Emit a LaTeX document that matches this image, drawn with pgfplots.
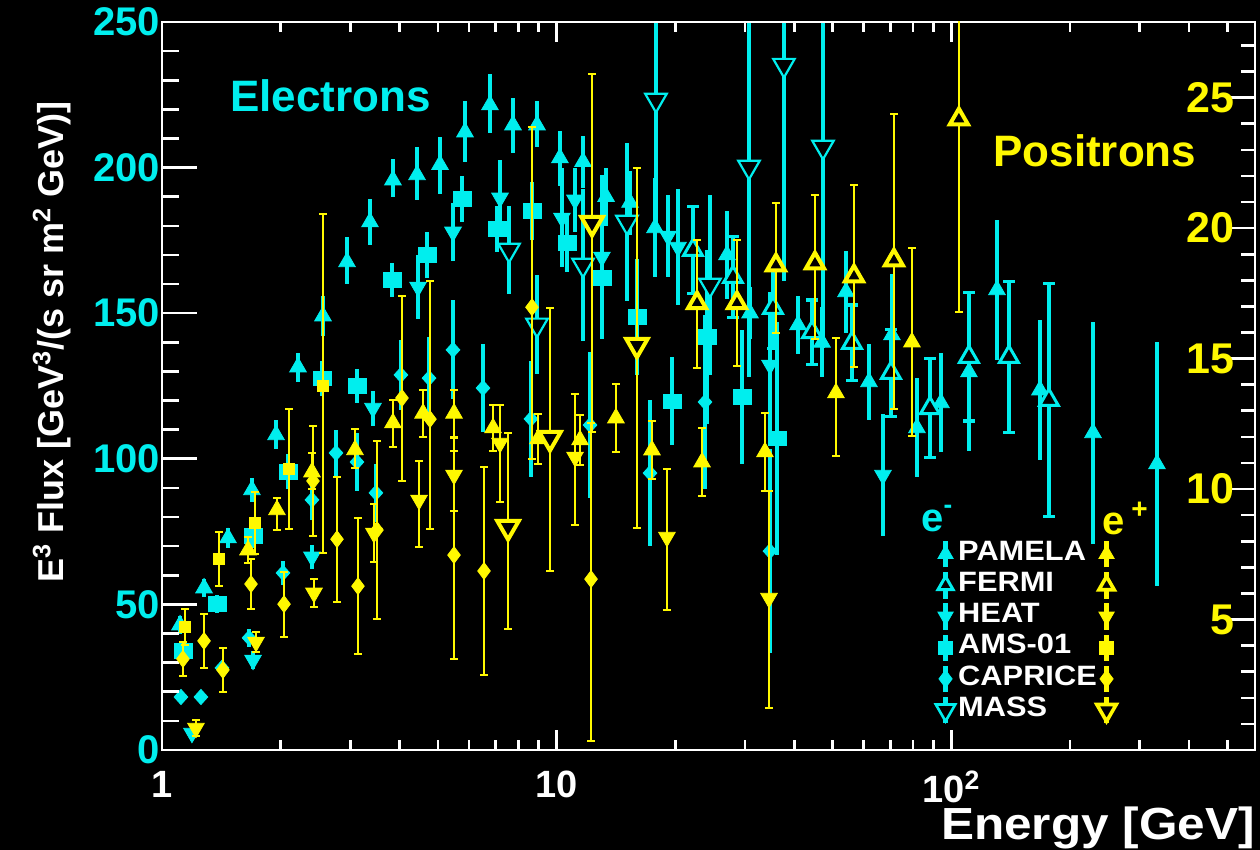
\documentclass[border=0pt]{standalone}
\usepackage{fontspec}
\setmainfont{Liberation Sans}
\newfontfamily\widefont[FakeStretch=1.1]{Liberation Sans}
\usepackage{pgfplots}
\pgfplotsset{compat=1.18}
\definecolor{ecyan}{RGB}{0,238,238}
\definecolor{pyel}{RGB}{255,248,0}
\pgfplotsset{
  every axis/.append style={at={(81pt,50pt)}, anchor=south west, scale only axis,
    width=546.5pt, height=364pt, xmin=1, xmax=588,
    axis line style={white, line width=1.1pt},
    tick style={white, line width=1.3pt}, tick align=inside},
  eplot/.style={only marks, ecyan, mark size=4.8pt,
    error bars/y dir=both, error bars/y explicit,
    error bars/error bar style={line width=2.2pt, ecyan},
    error bars/error mark=none},
  fplot/.style={only marks, ecyan, mark size=5.4pt,
    error bars/y dir=both, error bars/y explicit,
    error bars/error bar style={line width=2.2pt, ecyan},
    error bars/error mark options={rotate=90, mark size=2.8pt, line width=1.6pt, ecyan}},
  pplot/.style={only marks, pyel, mark size=4.8pt, forget plot,
    error bars/y dir=both, error bars/y explicit,
    error bars/error bar style={line width=1pt, pyel},
    error bars/error mark options={rotate=90, mark size=1.9pt, line width=1pt, pyel}},
}
\begin{document}
\begin{tikzpicture}
\path[fill=black, use as bounding box] (0,0) rectangle (630pt,425pt);
% ---------------- axis 1: x ticks + electrons
\begin{semilogxaxis}[name=ax1, ymin=0, ymax=250, ytick=\empty, yminorticks=false,
  xtick={1,10,100}, xticklabels={1,10,10\textsuperscript{2}},
  minor xtick={2,3,4,5,6,7,8,9,20,30,40,50,60,70,80,90,200,300,400,500},
  xticklabel pos=left,
  major tick length=10pt, minor tick length=5pt,
  xticklabel style={white, font=\bfseries\fontsize{19}{19}\selectfont, yshift=-7pt}]
% PAMELA e-
\addplot[eplot, mark=triangle*] table[x=x,y=y,y error plus=ep,y error minus=em] {
x y ep em
1.111 42.9 3 3
1.278 55.6 3 3
1.470 72.8 3.6 3.6
1.690 89.3 4 4
1.945 108.2 5 5
2.211 131.5 5 5
2.558 149.0 7 7
2.943 167.6 8.4 7.6
3.365 181.3 8 8
3.848 195.7 7.3 5.7
4.428 197.5 9.5 8.5
5.063 201.0 9.5 10
5.858 212.2 10.8 10.2
6.776 221.5 10.5 9.5
7.751 214.6 9.4 9.6
8.916 214.6 8.4 7.6
10.19 203.3 9.2 9.6
11.66 202.0 9 9
13.34 190.0 10 10
15.34 188.0 11 11
17.75 179.3 17 17
27.01 170.0 15 15
30.89 150.0 9 9
40.88 146.0 10 10
47.01 140.0 12 12
54.07 157.3 14 14
61.84 126.4 13 13
70.71 142.5 21 21
81.81 110.6 17 17
94.12 119.2 17 17
110.8 129.8 27 27
130.5 158.0 24 24
167.7 123.6 24 24
228.5 108.9 38 38
331.9 98.2 42 42
};
% HEAT e-
\addplot[eplot, mark=triangle*, mark options={rotate=180}] table[x=x,y=y,y error plus=ep,y error minus=em] {
x y ep em
1.191 5.8 2 2
1.701 30.9 3 3
2.399 66.3 4 4
3.424 117.4 6 6
4.454 159.0 11 11
5.462 177.9 10 10
7.186 189.6 13 13
10.31 182.7 17 17
11.13 188.9 11 11
13.02 169.3 28 28
19.14 176.5 14 14
20.29 172.7 20 20
34.71 132.2 25 25
67.10 94.4 21 21
};
% AMS-01 e-
\addplot[eplot, mark=square*, mark size=3.6pt, mark options={xscale=1.25}] table[x=x,y=y,y error plus=ep,y error minus=em] {
x y ep em
1.130 34.0 3 3
1.378 50.1 3 3
1.701 73.5 4 4
2.086 95.5 6 6
2.543 127.7 6 6
3.119 125.0 6 6
3.825 161.4 6 6
4.694 170.0 8 8
5.756 189.2 8 8
7.061 178.9 8 8
8.658 185.1 10 10
10.62 174.1 10 10
13.02 162.1 18 18
15.97 148.7 20 20
19.59 119.8 15 15
24.03 141.8 30 30
29.48 121.2 23 23
36.15 107.1 40 40
};
% CAPRICE e-
\addplot[eplot, mark=diamond*, mark size=3.8pt, mark options={xscale=1.2}] table[x=x,y=y,y error plus=ep,y error minus=em] {
x y ep em
1.117 18.2 2 2
1.255 18.2 2 2
1.419 28.2 2 2
1.662 38.5 3 3
2.026 60.8 4 4
2.399 85.9 7 7
2.760 102.0 8 8
3.119 98.9 10 10
3.484 88.3 10 10
4.031 128.8 12 12
4.749 127.7 14 14
5.462 137.4 17 17
6.507 124.3 15 15
8.608 113.7 20 20
12.15 111.6 25 25
17.24 95.1 25 25
23.76 119.5 30 30
34.71 68.3 35 35
};
% FERMI e-
\addplot[fplot, mark=triangle*, mark options={fill=black, draw=ecyan, line width=1.5pt}] table[x=x,y=y,y error plus=ep,y error minus=em] {
x y ep em
22.15 171.7 15 15
27.97 162.4 14 14
35.32 151.8 14 14
44.36 143.5 11 11
56.00 139.8 13 13
70.31 129.5 15 15
88.27 117.4 17 17
110.8 135.0 22 22
139.9 135.0 26 26
176.7 120.2 40 40
};
% MASS e-
\addplot[eplot, mark=triangle*, mark size=6.2pt, mark options={rotate=180, fill=black, draw=ecyan, line width=1.1pt}] table[x=x,y=y,y error plus=ep,y error minus=em] {
x y ep em
7.573 171.7 15 15
8.916 146.0 17 17
11.66 166.6 26 26
15.07 181.3 27 27
17.85 223.2 45 45
24.45 159.7 31 31
30.71 200.2 72 72
37.66 235.2 74 74
47.29 207.1 69 69
};
\end{semilogxaxis}
% ---------------- axis 2: left y ticks
\begin{semilogxaxis}[name=ax2, ymin=0, ymax=250, xtick=\empty, xminorticks=false,
  ytick={0,50,100,150,200,250}, yticklabels={0,50,100,150,200,250},
  minor ytick={10,20,30,40,60,70,80,90,110,120,130,140,160,170,180,190,210,220,230,240},
  ytick pos=left, major tick length=17.5pt, minor tick length=8.5pt,
  yticklabel style={ecyan, font=\bfseries\fontsize{20}{20}\selectfont, xshift=2.5pt}]
\end{semilogxaxis}
% ---------------- axis 3: right y ticks + positrons
\begin{semilogxaxis}[name=ax3, ymin=0, ymax=27.9, xtick=\empty, xminorticks=false,
  ytick={5,10,15,20,25}, yticklabels={5,10,15,20,25},
  minor ytick={1,2,3,4,6,7,8,9,11,12,13,14,16,17,18,19,21,22,23,24,26,27},
  ytick pos=right, yticklabel pos=right, major tick length=13pt, minor tick length=7pt,
  yticklabel style={pyel, font=\bfseries\fontsize{21.5}{21.5}\selectfont, anchor=east, xshift=-6.8pt},
  legend columns=2,
  legend style={draw=none, fill=none, text=white, inner sep=0pt, outer sep=0pt,
    font=\widefont\bfseries\fontsize{14}{14}\selectfont,
    at={(0.708,0.2905)}, anchor=north west, row sep=0pt,
    nodes={inner sep=0pt, text height=10.8pt, text depth=4.7pt},
    /tikz/every odd column/.append style={column sep=1.5pt},
    /tikz/every even column/.append style={column sep=0pt}},
  legend cell align=left,
  legend image code/.code={
    \draw[#1, line width=2.4pt] (0pt,-6.6pt) -- (0pt,6.6pt);
    \path[#1, only marks] plot coordinates {(0pt,0pt)};}]
% PAMELA e+
\addplot[pplot, mark=triangle*] table[x=x,y=y,y error plus=ep,y error minus=em] {
x y ep em
1.652 7.66 0.5 0.5
1.956 9.2 0.46 0.77
2.399 10.65 0.75 0.65
3.083 11.5 0.8 0.7
3.848 12.53 0.9 0.9
4.586 12.9 0.9 0.9
5.494 12.9 0.9 0.9
6.898 12.34 0.9 0.9
8.967 11.92 0.95 0.95
11.46 11.88 0.95 0.95
14.13 12.72 1.3 1.3
17.44 11.49 1.1 1.1
23.35 11.03 1.3 1.3
33.71 11.42 1.5 1.5
51.00 13.68 2.1 2.4
79.47 15.63 3.6 3.6
};
% HEAT e+
\addplot[pplot, mark=triangle*, mark options={rotate=180}] table[x=x,y=y,y error plus=ep,y error minus=em] {
x y ep em
1.219 0.84 0.3 0.3
1.731 4.14 0.4 0.4
2.427 6.02 0.55 0.55
3.444 8.31 1.1 1.1
4.480 9.58 1.5 1.8
5.494 10.54 1.4 1.4
7.186 11.76 1.45 2.25
11.13 11.23 2.4 2.6
19.03 8.16 2.6 2.8
34.51 5.82 4.1 4.2
};
% AMS-01 e+
\addplot[pplot, mark=square*, mark size=2.8pt] table[x=x,y=y,y error plus=ep,y error minus=em] {
x y ep em
1.144 4.71 0.7 0.7
1.394 7.32 1.05 1.05
1.721 8.70 1.2 1.2
2.098 10.77 2.3 2.3
2.558 13.95 6.6 6.4
};
% CAPRICE e+
\addplot[pplot, mark=diamond*, mark size=4.2pt] table[x=x,y=y,y error plus=ep,y error minus=em] {
x y ep em
1.130 3.49 0.65 0.65
1.278 4.18 1.05 1.05
1.427 3.07 0.85 0.85
1.681 6.36 0.95 0.95
2.038 5.59 1.25 1.25
2.413 10.31 2.1 2.1
2.776 8.08 2.4 2.4
3.137 6.28 2.6 2.6
3.505 8.43 3.4 3.4
4.055 13.49 3.9 3.2
4.775 12.68 5.3 4.2
5.494 7.47 4 4
6.545 6.86 4 4
8.658 16.97 6.9 5.8
12.22 6.55 6 6.2
};
% FERMI e+
\addplot[pplot, mark=triangle*, mark size=5.2pt, mark options={fill=black, draw=pyel, line width=2pt}] table[x=x,y=y,y error plus=ep,y error minus=em] {
x y ep em
22.68 17.13 2.4 2.5
28.63 17.13 2.4 2.4
35.94 18.58 2.4 2.6
45.13 18.66 2.6 2.9
56.66 18.16 3.5 3.5
71.54 18.77 5.6 5.7
104.5 24.18 6.5 7.4
};
% MASS e+
\addplot[pplot, mark=triangle*, mark size=6.2pt, mark options={rotate=180, fill=black, draw=pyel, line width=2pt}] table[x=x,y=y,y error plus=ep,y error minus=em] {
x y ep em
7.530 8.54 3.6 3.9
9.616 11.95 5.0 5.1
12.29 20.19 5.7 8
15.97 15.52 6.8 7.0
};
% legend
\addlegendimage{ecyan, mark=triangle*, mark size=4.4pt}
\addlegendentry{PAMELA}
\addlegendimage{pyel, mark=triangle*, mark size=4.4pt}
\addlegendentry{}
\addlegendimage{ecyan, mark=triangle*, mark size=4.4pt, mark options={fill=black, draw=ecyan, line width=1.5pt}}
\addlegendentry{FERMI}
\addlegendimage{pyel, mark=triangle*, mark size=4.4pt, mark options={fill=black, draw=pyel, line width=1.8pt}}
\addlegendentry{}
\addlegendimage{ecyan, mark=triangle*, mark size=4.4pt, mark options={rotate=180}}
\addlegendentry{HEAT}
\addlegendimage{pyel, mark=triangle*, mark size=4.4pt, mark options={rotate=180}}
\addlegendentry{}
\addlegendimage{ecyan, mark=square*, mark size=3.4pt}
\addlegendentry{AMS-01}
\addlegendimage{pyel, mark=square*, mark size=3.4pt}
\addlegendentry{}
\addlegendimage{ecyan, mark=diamond*, mark size=4.4pt}
\addlegendentry{CAPRICE}
\addlegendimage{pyel, mark=diamond*, mark size=4.4pt}
\addlegendentry{}
\addlegendimage{ecyan, mark=triangle*, mark size=5.6pt, mark options={rotate=180, fill=black, draw=ecyan, line width=1.3pt}}
\addlegendentry{MASS}
\addlegendimage{pyel, mark=triangle*, mark size=5.6pt, mark options={rotate=180, fill=black, draw=pyel, line width=1.8pt}}
\addlegendentry{}
\end{semilogxaxis}
% ---------------- text
\node[anchor=base west, inner sep=0pt, text=ecyan, font=\bfseries\fontsize{22}{22}\selectfont]
  at ([xshift=34pt, yshift=319pt]ax3.south west) {Electrons};
\node[anchor=base west, inner sep=0pt, text=pyel, font=\bfseries\fontsize{22}{22}\selectfont]
  at ([xshift=415.5pt, yshift=291.5pt]ax3.south west) {Positrons};
\node[anchor=base west, inner sep=0pt, text=ecyan, font=\bfseries\fontsize{20}{20}\selectfont]
  at ([xshift=379.5pt, yshift=109pt]ax3.south west) {e\raisebox{0.45em}{\fontsize{13}{13}\selectfont -}};
\node[anchor=base west, inner sep=0pt, text=pyel, font=\bfseries\fontsize{20}{20}\selectfont]
  at ([xshift=470pt, yshift=107.5pt]ax3.south west) {e\,\raisebox{0.4em}{\fontsize{14}{14}\selectfont +}};
\node[anchor=base east, inner sep=0pt, text=white, font=\widefont\bfseries\fontsize{22.5}{22.5}\selectfont]
  at ([yshift=-45pt]ax3.south east) {Energy [GeV]};
\node[anchor=base, rotate=90, inner sep=0pt, text=white, font=\bfseries\fontsize{18}{18}\selectfont]
  at ([xshift=-49.5pt, yshift=22pt]ax3.west) {E\textsuperscript{3} Flux [GeV\textsuperscript{3}/(s sr m\textsuperscript{2} GeV)]};
\end{tikzpicture}
\end{document}
